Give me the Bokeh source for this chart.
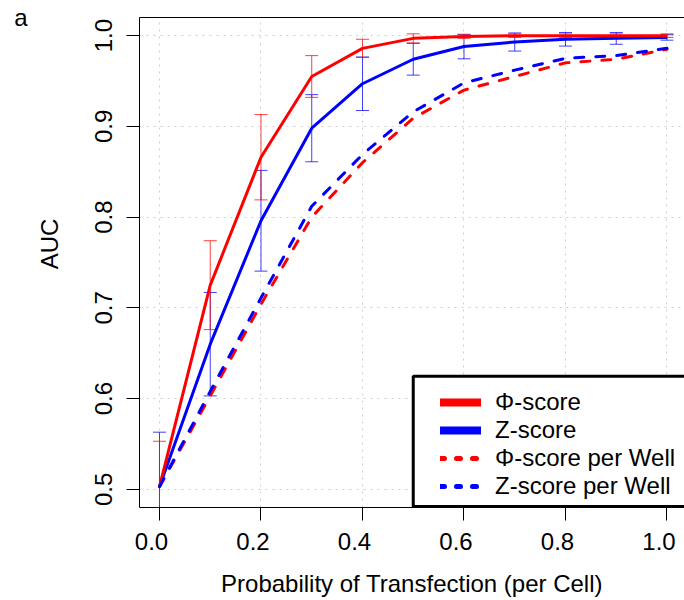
import numpy as np
from bokeh.plotting import figure
from bokeh.models import (ColumnDataSource, Whisker, TeeHead, Legend, LegendItem,
                          FixedTicker, Range1d, BoxAnnotation, LinearAxis,
                          PrintfTickFormatter, CustomJSTickFormatter)
from bokeh.embed import file_html
from bokeh.resources import INLINE

# ---- data ----
prob = [0.0, 0.1, 0.2, 0.3, 0.4, 0.5, 0.6, 0.7, 0.8, 0.9, 1.0]
phi_score = [0.503, 0.725, 0.866, 0.955, 0.986, 0.997, 0.999, 1.0, 1.0, 1.0, 1.0]
phi_err = [0.050, 0.049, 0.047, 0.023, 0.010, 0.005, 0.002, 0.002, 0.002, 0.002, 0.002]
z_score = [0.503, 0.660, 0.796, 0.898, 0.947, 0.974, 0.988, 0.993, 0.996, 0.997, 0.998]
z_err = [0.060, 0.057, 0.0555, 0.037, 0.0295, 0.0175, 0.0135, 0.010, 0.0075, 0.0065, 0.003]
phi_well = [0.503, 0.603, 0.704, 0.800, 0.860, 0.909, 0.940, 0.955, 0.970, 0.974, 0.985]
z_well = [0.503, 0.608, 0.711, 0.812, 0.869, 0.916, 0.948, 0.962, 0.975, 0.978, 0.986]
x_ticks = [0.0, 0.2, 0.4, 0.6, 0.8, 1.0]
y_ticks = [0.5, 0.6, 0.7, 0.8, 0.9, 1.0]
labels = ["\u03a6-score", "Z-score", "\u03a6-score per Well", "Z-score per Well"]

FONT = "Liberation Sans"

src = ColumnDataSource(dict(
    x=prob,
    phi=phi_score, phi_lo=list(np.array(phi_score) - np.array(phi_err)),
    phi_hi=list(np.array(phi_score) + np.array(phi_err)),
    z=z_score, z_lo=list(np.array(z_score) - np.array(z_err)),
    z_hi=list(np.array(z_score) + np.array(z_err)),
    phi_well=phi_well, z_well=z_well,
))

p = figure(width=684, height=600, x_range=Range1d(-0.0394, 1.0345),
           y_range=Range1d(0.48, 1.02), output_backend="svg", toolbar_location=None,
           min_border_left=139, min_border_right=0, min_border_top=17,
           min_border_bottom=93)
p.outline_line_color = None
p.background_fill_color = "white"

# grid
p.xgrid.ticker = FixedTicker(ticks=x_ticks)
p.ygrid.ticker = FixedTicker(ticks=y_ticks)
for g in (p.xgrid, p.ygrid):
    g.grid_line_color = "#CFCFCF"
    g.grid_line_dash = "2 5"
    g.grid_line_width = 1

# primary axes
for ax in (p.xaxis, p.yaxis):
    ax.axis_line_color = "black"
    ax.axis_line_width = 1
    ax.major_tick_line_color = "black"
    ax.major_tick_out = 13
    ax.major_tick_in = 0
    ax.minor_tick_line_color = None
    ax.major_label_text_font = FONT
    ax.major_label_text_font_size = "24px"
    ax.major_label_text_color = "black"
    ax.formatter = PrintfTickFormatter(format="%.1f")
p.xaxis.ticker = FixedTicker(ticks=x_ticks)
p.yaxis.ticker = FixedTicker(ticks=y_ticks)
p.yaxis.major_label_orientation = "vertical"
p.yaxis.major_label_standoff = 14
# bottom axis: ticks only; labels come from the offset axis below
p.xaxis.major_label_text_font_size = "0px"
p.xaxis.major_label_text_color = None
p.xaxis.major_label_standoff = 0

# x tick labels, drawn slightly left of their ticks as in the reference
shift = 8 / 507.5
xlab_axis = LinearAxis(ticker=FixedTicker(ticks=[t - shift for t in x_ticks]),
                       formatter=CustomJSTickFormatter(args=dict(shift=shift),
                                                       code="return (tick + shift).toFixed(1);"),
                       axis_line_color=None, major_tick_line_color=None,
                       minor_tick_line_color=None, major_tick_out=0, major_tick_in=0,
                       major_label_standoff=12, major_label_text_font=FONT,
                       major_label_text_font_size="24px", major_label_text_color="black",
                       axis_label="Probability of Transfection (per Cell)",
                       axis_label_text_font=FONT, axis_label_text_font_size="24px",
                       axis_label_text_font_style="normal", axis_label_text_color="black",
                       axis_label_standoff=17)
p.add_layout(xlab_axis, "below")

# y axis title "AUC" (placed as a label on an extra axis, as in the reference)
auc_axis = LinearAxis(ticker=FixedTicker(ticks=[0.7705]),
                      formatter=PrintfTickFormatter(format="AUC"),
                      axis_line_color=None, major_tick_line_color=None,
                      minor_tick_line_color=None, major_tick_out=0, major_tick_in=0,
                      major_label_orientation="vertical", major_label_standoff=29,
                      major_label_text_font=FONT, major_label_text_font_size="24px",
                      major_label_text_color="black")
p.add_layout(auc_axis, "left")

# panel tag "a"
tag_axis = LinearAxis(ticker=FixedTicker(ticks=[1.0195]),
                      formatter=PrintfTickFormatter(format="a"),
                      axis_line_color=None, major_tick_line_color=None,
                      minor_tick_line_color=None, major_tick_out=0, major_tick_in=0,
                      major_label_orientation="horizontal", major_label_standoff=6,
                      major_label_text_font=FONT, major_label_text_font_size="24px",
                      major_label_text_color="black")
p.add_layout(tag_axis, "left")

top_axis = LinearAxis(ticker=FixedTicker(ticks=[]), axis_line_color="black",
                      major_tick_line_color=None, minor_tick_line_color=None,
                      major_label_text_font_size="0px", major_label_text_color=None)
p.add_layout(top_axis, "above")

# data lines
p.line("x", "z", source=src, line_color="#0000FF", line_width=3)
p.line("x", "phi", source=src, line_color="#FF0000", line_width=3)
p.line("x", "phi_well", source=src, line_color="#FF0000", line_width=3,
       line_dash="9 12", line_cap="round")
p.line("x", "z_well", source=src, line_color="#0000FF", line_width=3,
       line_dash="9 12", line_cap="round")

# error bars
for col, lo, hi in (("#0000FF", "z_lo", "z_hi"), ("#FF0000", "phi_lo", "phi_hi")):
    w = Whisker(source=src, base="x", lower=lo, upper=hi, line_color=col,
                line_alpha=0.75, line_width=1,
                upper_head=TeeHead(size=13, line_color=col, line_alpha=0.75, line_width=1),
                lower_head=TeeHead(size=13, line_color=col, line_alpha=0.75, line_width=1))
    p.add_layout(w)

# legend box
box = BoxAnnotation(left=0.5, right=2.0, top=0.6247, bottom=0.4812,
                    fill_color="white", fill_alpha=1.0, line_color="black",
                    line_width=3, line_alpha=1.0, level="annotation")
p.add_layout(box)

# legend glyphs (renderers that draw nothing in the plot, only carry legend styling)
nan = [float("nan")]
r1 = p.line(x=nan, y=nan, line_color="#FF0000", line_width=8, line_cap="round")
r2 = p.line(x=nan, y=nan, line_color="#0000FF", line_width=8, line_cap="round")
r3 = p.line(x=nan, y=nan, line_color="#FF0000", line_width=5, line_cap="round", line_dash="4 12")
r4 = p.line(x=nan, y=nan, line_color="#0000FF", line_width=5, line_cap="round", line_dash="4 12")
legend = Legend(items=[LegendItem(label=labels[0], renderers=[r1]),
                       LegendItem(label=labels[1], renderers=[r2]),
                       LegendItem(label=labels[2], renderers=[r3]),
                       LegendItem(label=labels[3], renderers=[r4])],
                location=(301, 7), padding=0, margin=0, spacing=0,
                border_line_color=None, background_fill_alpha=0,
                glyph_width=41, glyph_height=20, label_height=20, label_standoff=14,
                label_text_font=FONT, label_text_font_size="24px",
                label_text_color="black")
p.add_layout(legend)

open("out.html", "w").write(file_html(p, INLINE))
